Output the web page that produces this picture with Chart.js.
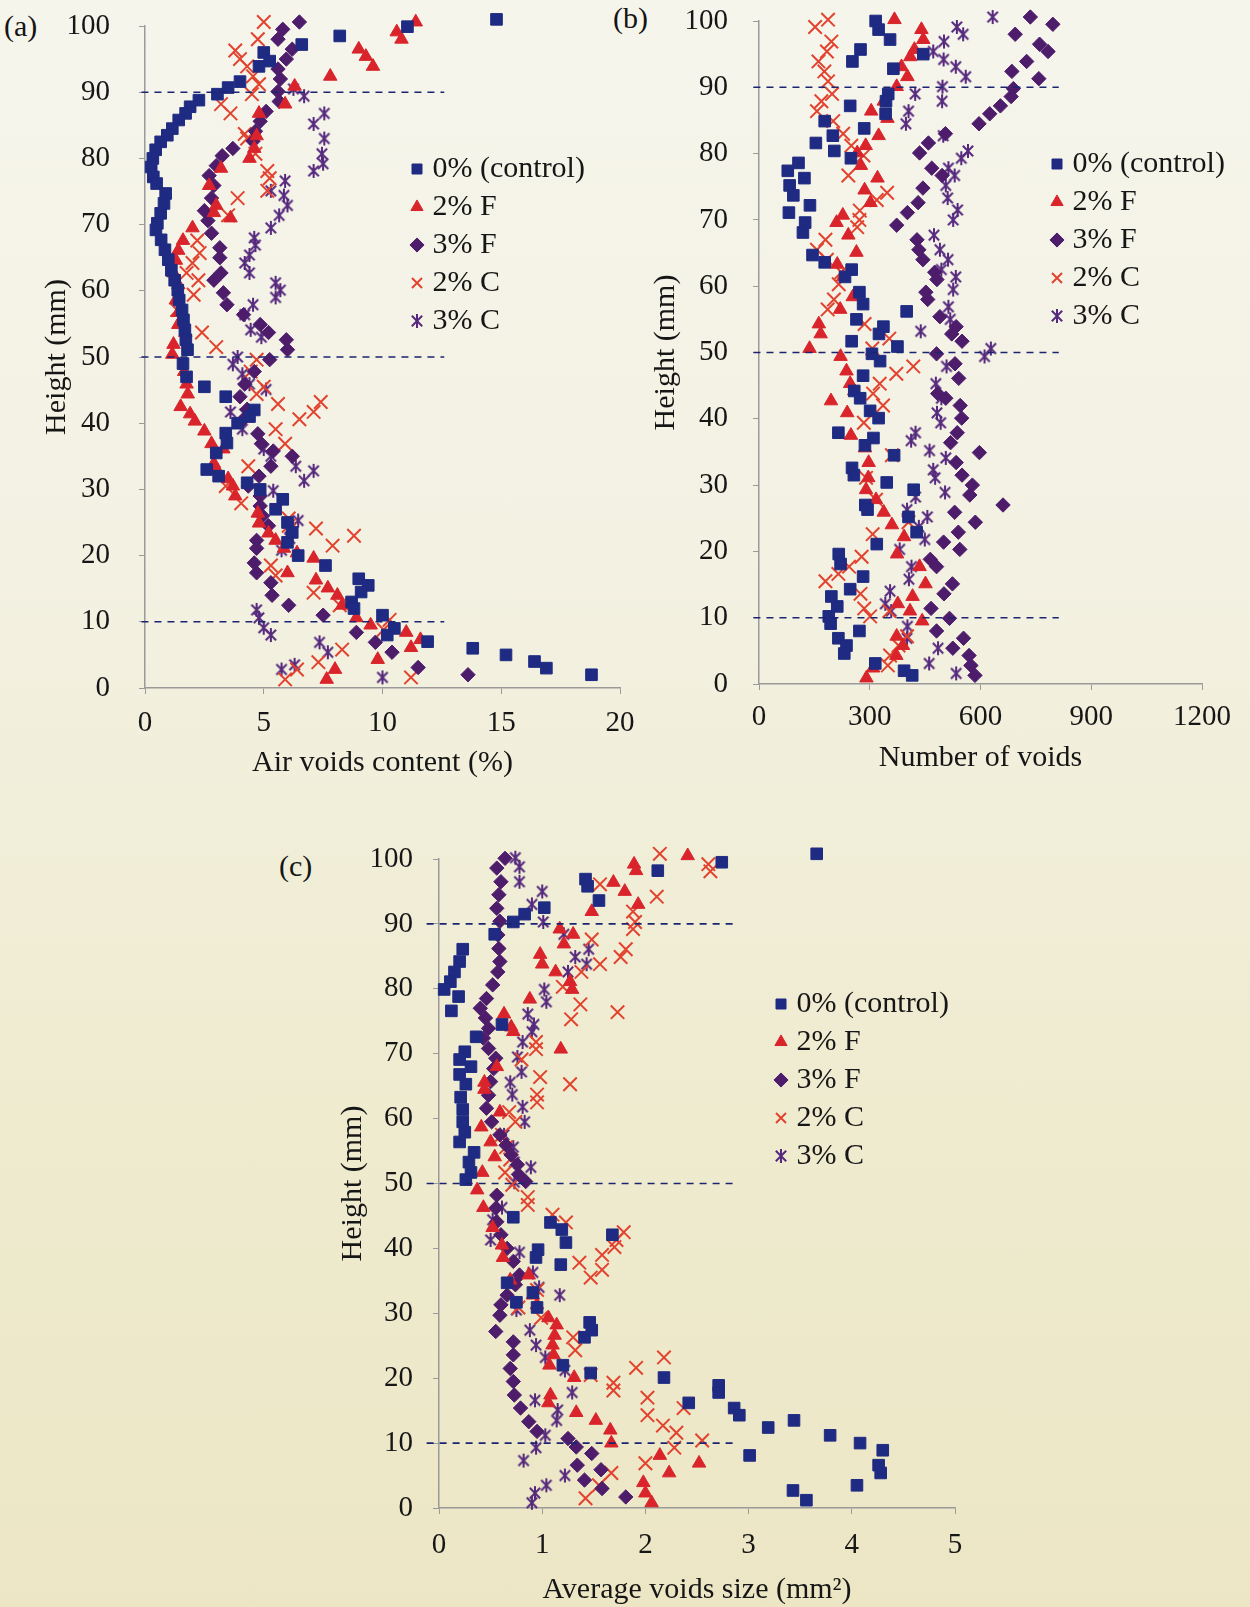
<!DOCTYPE html>
<html>
<head>
<meta charset="utf-8">
<script src="https://cdn.jsdelivr.net/npm/chart.js@4.4.1/dist/chart.umd.min.js"></script>
<style>
    html, body { margin: 0; padding: 0; }
    body {
        width: 1250px; height: 1607px; overflow: hidden; position: relative;
        background: linear-gradient(to bottom, #f6f5ec 0%, #f3f1e2 35%, #efebcf 70%, #ece6c5 100%);
        font-family: "Liberation Serif", "Times New Roman", serif;
    }
    canvas { position: absolute; }
    .panel { position: absolute; font-size: 30px; line-height: 34px; color: #151515; }
</style>
</head>
<body>
<div class="panel" style="left:4px;top:9px">(a)</div>
<div class="panel" style="left:613px;top:1px">(b)</div>
<div class="panel" style="left:279px;top:849px">(c)</div>
<canvas id="chartA" width="660" height="785" style="left:0px;top:0px"></canvas>
<canvas id="chartB" width="620" height="780" style="left:630px;top:0px"></canvas>
<canvas id="chartC" width="730" height="792" style="left:270px;top:820px"></canvas>
<script>
// series labels
const seriesLabels = ['0% (control)', '2% F', '3% F', '2% C', '3% C'];
const guideHeights = [90, 50, 10];

// (a) air voids content (%) vs height (mm), pairs are [value, height]
const airControl = [[14.8,101],[11.05,99.9],[8.2,98.5],[6.6,97.2],[5.0,96],[5.25,94.7],[4.8,93.9],[4.0,91.6],[3.5,90.7],[3.05,89.7],[2.27,88.8],[1.9,87.8],[1.71,86.8],[1.42,85.8],[1.15,84.5],[0.94,83.5],[0.66,82.5],[0.45,81.3],[0.33,80],[0.26,78.7],[0.35,77.2],[0.49,76.2],[0.87,74.7],[0.8,73.2],[0.66,71.7],[0.52,70.2],[0.46,69.2],[0.68,67.7],[0.84,66.2],[0.98,64.7],[1.11,63.1],[1.25,61.6],[1.38,60.1],[1.44,58.6],[1.56,57.1],[1.62,55.6],[1.68,54.1],[1.72,52.6],[1.79,51.1],[1.6,49],[1.75,47],[2.5,45.5],[3.4,44],[4.6,42],[4.4,41],[3.9,40],[3.4,38.5],[3.45,37],[3.0,35.5],[2.6,33],[3.1,32],[4.3,31],[4.85,30],[5.8,28.5],[5.5,27],[6.0,25],[6.2,23.5],[6.0,22],[6.45,20],[7.6,18.5],[9.0,16.5],[9.4,15.5],[9.1,14.5],[8.7,13],[8.8,12],[10.0,11],[10.5,9],[10.2,8],[11.9,7],[13.8,6],[15.2,5],[16.4,4],[16.9,3],[18.8,2]];
const air2F = [[11.4,100.6],[10.6,99.1],[10.8,98],[9.0,96.5],[9.3,95.4],[9.6,93.9],[7.8,92.4],[6.3,90.9],[5.9,88.2],[4.8,86.8],[4.7,83.4],[4.6,81.5],[4.4,80],[3.2,78.5],[2.7,75.9],[3.0,72.9],[2.9,71.8],[3.6,71],[2.0,69.5],[1.6,67.6],[1.4,66.1],[1.3,64.6],[1.2,62.7],[1.4,60.9],[1.3,58.6],[1.4,56.7],[1.4,54.9],[1.7,53.7],[1.2,51.9],[1.15,50.4],[1.65,47.8],[1.75,45.9],[1.8,44.4],[1.5,42.5],[1.9,41.4],[2.1,40.3],[2.5,38.8],[2.8,36.9],[3.3,36.1],[2.9,33.9],[3.0,33.1],[3.5,31.6],[3.7,30.5],[3.8,29],[4.75,26.4],[4.8,24.9],[5.2,23.4],[5.5,22.3],[5.85,21.1],[6.4,20.4],[7.1,19.6],[6.0,17.4],[7.2,16.3],[7.7,15.1],[8.1,14],[8.3,12.5],[8.9,10.6],[9.5,9.5],[11.0,8.4],[11.6,7.3],[11.2,6.1],[9.8,4.3],[8.0,2.8],[7.65,1.3]];
const air3F = [[6.5,100.6],[5.8,99.5],[5.6,98],[6.2,96.5],[5.95,95],[5.6,93.5],[5.7,92],[5.6,90.1],[5.65,88.6],[5.1,87.1],[4.85,85.6],[4.65,84.1],[4.55,82.6],[3.7,81.5],[3.25,80.4],[3.0,78.9],[2.7,77.4],[2.9,75.9],[2.8,74],[2.5,72.1],[2.65,70.6],[2.8,68.7],[3.15,66.5],[3.15,65],[3.2,62.7],[2.9,61.6],[3.3,59.7],[3.45,57.9],[4.15,56.4],[4.85,54.9],[5.2,53.7],[5.95,52.6],[6.0,51.1],[5.25,49.6],[4.6,47.8],[4.2,45.9],[4.0,44],[4.3,42.1],[4.15,40.6],[4.75,38.4],[4.9,36.9],[5.4,35.8],[6.2,35],[5.3,33.5],[4.8,32],[4.35,30.5],[4.85,29],[4.85,27.5],[4.95,26],[5.2,24.5],[4.7,22.3],[4.7,21.1],[4.6,18.9],[4.7,17.4],[5.3,15.9],[5.35,14],[6.05,12.5],[7.5,11],[8.9,8.4],[9.7,6.9],[10.4,5.4],[11.5,3.1],[13.6,2]];
const air2C = [[5.0,100.6],[4.75,98],[3.8,96.3],[4.0,95],[4.3,93.9],[4.55,92.4],[4.8,91.2],[4.5,89.7],[3.2,88.2],[3.6,86.8],[4.2,83.7],[4.3,83],[4.65,80.7],[5.15,78.1],[5.25,77],[5.15,75.1],[3.9,74],[3.5,71.4],[2.2,67.6],[2.3,65.7],[2.0,64.2],[1.75,62.7],[2.25,61.6],[2.05,59.4],[1.35,57.1],[2.4,53.7],[3.0,51.5],[4.7,49.6],[4.45,47.8],[5.0,45.5],[4.7,44.4],[5.6,42.9],[7.4,43.2],[7.1,41.7],[6.5,40.6],[5.5,39.1],[5.9,36.9],[4.35,33.5],[3.4,30.5],[4.05,27.9],[6.05,25.6],[6.05,24.5],[7.2,24.1],[8.8,23],[7.9,21.5],[5.3,18.5],[5.5,17],[7.1,14.4],[8.2,12.5],[10.3,10.3],[10.05,8.8],[8.3,5.8],[7.3,3.9],[6.4,2.8],[11.2,1.6],[5.9,1.3]];
const air3C = [[6.25,90.5],[6.7,89.4],[7.55,86.8],[7.1,85.2],[7.55,83],[7.45,80.7],[7.5,79.2],[7.1,78.1],[5.9,76.6],[5.3,75.1],[5.85,74.4],[6.0,72.9],[5.65,71.4],[5.3,69.5],[4.6,68],[4.65,66.9],[4.4,65.4],[4.2,64.2],[4.4,62.7],[5.5,61.2],[5.7,60.1],[5.5,59],[4.55,57.9],[4.2,56.4],[4.45,54.1],[4.9,53],[3.9,50],[3.7,48.9],[4.1,47.4],[4.4,45.9],[5.1,45.1],[3.6,41.7],[4.2,41.4],[4.1,39.1],[5.0,36.1],[5.3,35],[6.35,33.5],[7.1,32.8],[6.7,31.3],[5.4,29.8],[6.45,25.3],[6.1,24.1],[6.1,22.6],[5.75,20.8],[4.7,11.8],[4.8,10.6],[5.0,9.1],[5.3,8],[7.35,6.9],[7.7,5.4],[6.3,3.5],[5.75,2.8],[10.0,1.6]];

// (b) number of voids vs height (mm)
const numControl = [[316,100],[324,98.7],[355,97.2],[275,95.7],[445,95],[253,93.9],[364,92.8],[350,89],[344,87.9],[247,87.2],[343,86],[178,84.9],[285,83.8],[200,82.7],[154,81.6],[204,80.4],[249,79.3],[107,78.6],[78,77.4],[123,76.3],[83,75.2],[93,73.7],[138,72.2],[81,71.1],[125,69.6],[119,68.1],[145,64.7],[178,63.6],[251,62.5],[233,61.4],[272,59.1],[282,57.3],[400,56.2],[264,55],[337,53.9],[325,52.8],[251,51.7],[375,50.9],[306,49.8],[328,48.7],[282,46.5],[258,44.2],[274,43.1],[301,41.2],[324,40.1],[215,37.9],[310,37.1],[287,36],[366,34.5],[252,32.6],[257,31.5],[346,30.4],[419,29.3],[288,27],[294,26.3],[405,25.2],[427,22.9],[319,21.1],[216,19.6],[221,18.1],[282,16.2],[247,14.3],[196,13.2],[212,11.7],[189,10.2],[194,9.1],[272,8],[215,6.9],[237,5.8],[231,4.6],[315,3.1],[393,2],[415,1.3]];
const num2F = [[367,100.2],[440,98.7],[445,97.2],[421,95.7],[410,94.6],[386,93.1],[402,91.6],[373,90.1],[338,87.9],[304,86.4],[348,85.3],[324,82.7],[289,81.2],[266,80.1],[276,78.2],[321,76.3],[286,74.5],[302,72.6],[227,70.7],[210,69.6],[242,67.7],[264,65.1],[212,63.3],[228,61.4],[254,58.4],[220,56.5],[162,54.3],[167,52.8],[137,50.6],[221,49.4],[237,47.2],[247,45.3],[258,44.2],[195,42.7],[239,40.9],[249,37.5],[287,35.6],[297,33.4],[296,31.1],[290,29.3],[317,27.8],[338,25.9],[360,24],[393,22.2],[374,19.6],[435,17.7],[451,15.1],[416,13.2],[376,12.1],[409,11],[442,9.5],[373,7.2],[390,5.8],[372,4.3],[309,2.4],[291,0.9]];
const num3F = [[735,100.6],[796,99.5],[694,98],[760,96.5],[783,95.4],[725,93.9],[685,92.4],[758,91.3],[689,89.8],[683,88.6],[654,87.2],[625,86],[596,84.5],[505,83],[459,81.6],[435,80.1],[468,77.8],[496,76.7],[444,74.8],[431,72.6],[402,71.1],[373,69.2],[428,67],[433,65.5],[444,64],[476,62.1],[482,61],[452,59.1],[457,58],[490,55.4],[534,53.9],[522,52.8],[550,51.7],[481,49.8],[531,48.3],[541,46.1],[484,43.8],[506,43.1],[545,42],[549,40.1],[537,37.9],[519,36.4],[597,34.9],[534,33.4],[550,31.5],[578,30],[571,28.5],[661,27],[530,25.9],[586,24.4],[540,22.9],[500,21.4],[544,20.3],[464,18.8],[481,17.7],[524,15.1],[501,13.6],[466,11.4],[516,9.9],[481,8],[554,6.9],[525,5.4],[569,4.3],[574,2.8],[585,1.3]];
const num2C = [[187,100.2],[152,99.1],[196,96.9],[184,95.4],[161,93.9],[177,92.4],[187,90.9],[198,89],[169,87.9],[157,86.4],[201,84.9],[228,83],[250,81.2],[283,79.7],[242,76.7],[347,74.1],[319,73],[273,71.4],[272,70],[266,68.9],[180,67],[157,65.5],[184,64],[223,62.1],[216,60.3],[203,58],[186,56.5],[286,54.3],[353,52.1],[307,50.6],[418,47.9],[372,46.8],[327,45.3],[309,43.8],[336,42],[284,39.4],[360,34.5],[290,31.1],[317,27.8],[405,24.4],[308,22.6],[278,19.2],[244,17.7],[215,16.6],[180,15.5],[275,13.6],[285,11.4],[301,10.2],[353,11],[401,7.2],[378,5.8],[355,4.3],[349,2.8]];
const num3C = [[633,100.6],[536,99.1],[553,98],[501,96.9],[472,95.4],[500,94.2],[533,93.1],[560,91.6],[497,90.1],[423,89],[496,87.9],[405,86.4],[398,84.5],[499,82.7],[566,80.4],[548,79.3],[513,77.8],[530,76.7],[506,75.2],[511,73.3],[538,71.5],[526,70],[474,67.7],[490,65.5],[512,64],[494,62.5],[533,61.4],[526,59.5],[513,56.9],[518,55],[438,53.2],[628,50.6],[611,49.4],[508,47.9],[479,45.3],[494,43.1],[482,40.9],[492,39.4],[424,37.9],[412,36.7],[462,35.2],[506,34.1],[472,32.3],[477,31.1],[504,28.9],[424,28.2],[401,26.3],[456,25.2],[433,23.7],[449,21.8],[381,20.3],[413,17.7],[406,15.8],[355,14],[342,12.1],[358,11],[402,8.7],[401,6.9],[485,5.4],[461,3.1],[534,1.6]];

// (c) average voids size (mm2) vs height (mm)
const sizeControl = [[3.66,100.8],[2.74,99.5],[2.12,98.2],[1.42,96.9],[1.44,95.8],[1.55,93.6],[1.02,92.5],[0.83,91.5],[0.72,90.3],[0.54,88.4],[0.23,86.1],[0.2,84.2],[0.15,82.6],[0.11,81.1],[0.05,79.9],[0.19,78.8],[0.12,76.6],[0.61,74.5],[0.36,72.6],[0.25,70.3],[0.2,69.1],[0.31,68],[0.2,66.8],[0.26,65.3],[0.21,63.3],[0.23,61.4],[0.23,59.5],[0.25,57.9],[0.2,56.4],[0.34,54.8],[0.29,53.3],[0.31,51.7],[0.26,50.6],[0.72,44.8],[1.08,44],[1.19,42.9],[1.68,42.1],[1.23,40.9],[0.96,39.8],[0.94,38.6],[1.18,37.5],[0.66,34.7],[0.91,33.2],[0.75,31.7],[0.95,30.9],[1.46,28.6],[1.48,27.4],[1.41,26.3],[1.2,22],[1.47,20.8],[2.18,20.1],[2.71,18.9],[2.71,17.8],[2.42,16.2],[2.86,15.4],[2.91,14.3],[3.44,13.5],[3.19,12.4],[3.79,11.2],[4.08,10],[4.3,8.9],[3.01,8.1],[4.26,6.6],[4.28,5.4],[4.05,3.5],[3.43,2.7],[3.56,1.2]];
const size2F = [[2.41,100.5],[1.89,99.2],[1.91,98.2],[1.69,96.4],[1.8,95],[1.93,93],[1.48,91.9],[1.17,89.2],[1.3,88.4],[1.21,86.9],[0.98,85.3],[1.0,83.8],[1.13,82.6],[1.27,81.1],[1.29,79.9],[0.88,78.4],[0.63,76.1],[0.7,74.1],[0.72,73.4],[1.18,70.7],[0.56,68],[0.44,65.6],[0.44,64.5],[0.59,61],[0.41,58.7],[0.5,56.4],[0.54,54.1],[0.42,51.7],[0.37,49],[0.43,46.3],[0.52,43.2],[0.61,40.5],[0.62,38.6],[0.69,35.1],[0.87,35.9],[0.91,32.8],[0.95,31.3],[1.06,29.3],[1.14,28.2],[1.12,26.6],[1.1,25.1],[1.11,23.6],[1.07,22],[1.31,20.1],[1.08,17.4],[1.06,16.2],[1.33,14.7],[1.52,13.5],[1.66,12],[1.67,10],[2.14,8.1],[2.52,6.9],[2.23,5.4],[1.98,3.9],[2.0,2.3],[2.06,0.8]];
const size3F = [[0.64,100.1],[0.56,98.6],[0.6,96.5],[0.58,94.5],[0.56,92.4],[0.59,90.4],[0.57,88.3],[0.58,86.2],[0.59,84.2],[0.57,82.6],[0.52,80.6],[0.46,78.5],[0.4,77],[0.45,75.5],[0.48,73.9],[0.43,72.4],[0.48,70.8],[0.55,69.3],[0.53,67.7],[0.5,65.7],[0.48,63.6],[0.46,61.6],[0.51,59.5],[0.59,57.5],[0.65,55.9],[0.7,54.4],[0.76,52.9],[0.77,51.4],[0.84,50.3],[0.56,48.2],[0.55,46.2],[0.56,44.1],[0.6,42.1],[0.66,40],[0.72,38],[0.78,35.9],[0.74,34.4],[0.66,32.8],[0.6,31.3],[0.59,29.7],[0.55,27.2],[0.72,25.6],[0.72,23.6],[0.69,21.5],[0.72,19.5],[0.73,17.4],[0.79,15.4],[0.87,13.3],[0.95,11.8],[1.25,10.7],[1.33,9.4],[1.48,8.4],[1.34,6.6],[1.57,5.9],[1.41,4.3],[1.58,3],[1.81,1.7]];
const size2C = [[2.14,100.8],[2.61,99.2],[2.63,98.1],[1.56,96.1],[2.11,94.2],[1.88,91.9],[1.9,90.3],[1.88,89.2],[1.48,87.6],[1.81,86.1],[1.76,84.9],[1.56,83.8],[1.38,82.6],[1.2,80.3],[1.37,77.6],[1.73,76.4],[1.28,75.3],[0.94,71.8],[0.94,70.7],[0.8,69.1],[0.98,66.4],[1.27,65.3],[0.95,63.7],[0.95,62.5],[0.68,61],[0.74,59.5],[0.61,57.5],[0.65,55.6],[0.69,53.7],[0.64,51.7],[0.71,49.8],[0.86,47.9],[0.86,46.7],[1.1,45.2],[1.23,44],[1.79,42.5],[1.72,41.3],[1.7,40.2],[1.58,39],[1.36,37.8],[1.58,36.7],[1.47,35.5],[0.95,33.6],[0.77,30.9],[0.99,29.3],[1.3,26.3],[1.32,24.3],[2.18,23.2],[1.91,21.6],[1.47,20.5],[1.69,19.3],[1.69,18.1],[2.02,17],[2.02,14.3],[2.37,15.4],[2.17,12.7],[2.3,11.6],[2.55,10.4],[2.28,9.3],[2.0,6.9],[1.67,5.4],[1.55,3.5],[1.42,1.5]];
const size3C = [[0.74,100.2],[0.78,98.8],[0.78,96.5],[1.0,95],[0.9,93],[1.01,90.3],[1.21,88.4],[1.45,86.1],[1.32,84.9],[1.43,83.8],[1.25,82.6],[1.02,79.9],[1.04,78],[0.86,76.1],[0.92,74.5],[0.9,73.4],[0.81,71.8],[0.76,69.5],[0.8,67.2],[0.69,65.6],[0.71,63.7],[0.81,61.8],[0.83,59.5],[0.63,57.5],[0.72,55.6],[0.73,53.3],[0.89,52.5],[0.73,50.2],[0.61,46.3],[0.52,44.4],[0.5,41.3],[0.78,39.4],[0.91,36.3],[0.97,34],[1.17,32.8],[0.75,30.5],[0.88,27.4],[0.94,25.1],[1.03,23.2],[1.22,21.2],[1.29,17.8],[0.93,16.6],[1.15,15.1],[1.14,13.5],[1.03,11.2],[0.94,9.3],[0.82,7.3],[1.22,5],[1.04,3.5],[0.93,2.3],[0.9,0.8]];

// x extent of the dashed guide lines in each panel
const guideA = [-0.15, 12.6];
const guideB = [-15, 812];
const guideC = [-0.12, 2.88];

const INK = '#161616';
const AXIS = '#9a9a9a';
const GUIDE = '#1b2470';
const FONT = '"Liberation Serif", "Times New Roman", serif';

Chart.defaults.font.family = FONT;
Chart.defaults.color = INK;

const makeAsterisk = (color, size) => {
    const c = document.createElement('canvas');
    c.width = size;
    c.height = size;
    const g = c.getContext('2d');
    const m = size / 2;
    const r = size / 2 - 1;
    const d = r * 0.74;
    g.strokeStyle = color;
    g.lineWidth = 2;
    g.beginPath();
    g.moveTo(m, m - r); g.lineTo(m, m + r);
    g.moveTo(m - d, m - d); g.lineTo(m + d, m + d);
    g.moveTo(m + d, m - d); g.lineTo(m - d, m + d);
    g.stroke();
    return c;
};

const seriesStyles = [
    { pointStyle: 'rect', radius: 8.2, color: '#1f2b82', border: 1 },
    { pointStyle: 'triangle', radius: 7.8, color: '#d9242b', border: 1 },
    { pointStyle: 'rectRot', radius: 7.2, color: '#4d1c6b', border: 1 },
    { pointStyle: 'crossRot', radius: 9.5, color: '#e2432f', border: 2 },
    { pointStyle: makeAsterisk('#55297d', 16), radius: 8, color: '#55297d', border: 1 }
];

const buildDatasets = (seriesList, guideX) => {
    const sets = seriesList.map((pairs, i) => {
        const s = seriesStyles[i];
        return {
            label: seriesLabels[i],
            data: pairs.map(([x, y]) => ({ x: x, y: y })),
            pointStyle: s.pointStyle,
            pointRadius: s.radius,
            backgroundColor: s.color,
            borderColor: s.color,
            borderWidth: s.border,
            clip: false
        };
    });
    guideHeights.forEach((h) => {
        sets.push({
            label: 'guide',
            data: [{ x: guideX[0], y: h }, { x: guideX[1], y: h }],
            showLine: true,
            pointRadius: 0,
            borderColor: GUIDE,
            borderWidth: 1.6,
            borderDash: [7, 6],
            clip: false,
            order: -1
        });
    });
    return sets;
};

// moves the legend box to a fixed spot inside the plot
const legendMover = (x, y) => ({
    id: 'legendMover',
    beforeDraw: (chart) => {
        const lg = chart.legend;
        lg.left = x;
        lg.top = y;
        lg.right = x + 240;
        lg.bottom = y + 260;
        lg.width = 240;
        lg.height = 260;
    }
});

const createChart = (canvasId, spec) => {
    const ctx = document.getElementById(canvasId);
    return new Chart(ctx, {
        type: 'scatter',
        data: { datasets: buildDatasets(spec.series, spec.guide) },
        options: {
            responsive: false,
            animation: false,
            devicePixelRatio: 1,
            layout: { padding: spec.padding },
            plugins: {
                tooltip: { enabled: false },
                legend: {
                    position: 'chartArea',
                    align: 'start',
                    labels: {
                        usePointStyle: true,
                        boxWidth: 1,
                        boxHeight: 10,
                        padding: 8,
                        color: INK,
                        font: { size: 30, family: FONT },
                        filter: (item) => item.datasetIndex < 5
                    }
                }
            },
            scales: {
                x: {
                    type: 'linear',
                    min: spec.xMin,
                    max: spec.xMax,
                    ticks: {
                        stepSize: spec.xStep,
                        padding: spec.xTickPad,
                        color: INK,
                        maxRotation: 0,
                        font: { size: 29 },
                        callback: (v) => String(v)
                    },
                    grid: { drawOnChartArea: false, drawTicks: true, tickLength: 6, color: AXIS },
                    border: { color: AXIS, width: 1.5 },
                    title: {
                        display: true,
                        text: spec.xTitle,
                        color: INK,
                        font: { size: 30 },
                        padding: { top: 4, bottom: 4 }
                    },
                    afterFit: (scale) => { scale.height = spec.xHeight; }
                },
                y: {
                    type: 'linear',
                    min: 0,
                    max: 100,
                    ticks: {
                        stepSize: 10,
                        padding: spec.yTickPad,
                        color: INK,
                        font: { size: 29 },
                        callback: (v) => String(v)
                    },
                    grid: { drawOnChartArea: false, drawTicks: true, tickLength: 6, color: AXIS },
                    border: { color: AXIS, width: 1.5 },
                    title: {
                        display: true,
                        text: 'Height (mm)',
                        color: INK,
                        font: { size: 30 },
                        padding: { top: 4, bottom: 4 }
                    },
                    afterFit: (scale) => {
                        scale.width = spec.yWidth;
                        // keep the plot top where the padding puts it
                        scale.paddingTop = 0;
                        scale.paddingBottom = 0;
                    }
                }
            }
        },
        plugins: [legendMover(spec.legendX, spec.legendY)]
    });
};

createChart('chartA', {
    series: [airControl, air2F, air3F, air2C, air3C],
    guide: guideA,
    padding: { left: 35, top: 26, right: 40, bottom: 0 },
    yWidth: 110,
    xHeight: 97,
    xMin: 0, xMax: 20, xStep: 5,
    xTickPad: 12,
    yTickPad: 29,
    xTitle: 'Air voids content (%)',
    legendX: 408.5,
    legendY: 146
});

createChart('chartB', {
    series: [numControl, num2F, num3F, num2C, num3C],
    guide: guideB,
    padding: { left: 14, top: 21, right: 48, bottom: 0 },
    yWidth: 115,
    xHeight: 96,
    xMin: 0, xMax: 1200, xStep: 300,
    xTickPad: 10,
    yTickPad: 25,
    xTitle: 'Number of voids',
    legendX: 418.5,
    legendY: 141
});

createChart('chartC', {
    series: [sizeControl, size2F, size3F, size2C, size3C],
    guide: guideC,
    padding: { left: 61, top: 39, right: 45, bottom: 0 },
    yWidth: 108,
    xHeight: 104,
    xMin: 0, xMax: 5, xStep: 1,
    xTickPad: 14,
    yTickPad: 20,
    xTitle: 'Average voids size (mm²)',
    legendX: 502.5,
    legendY: 161
});
</script>
</body>
</html>
